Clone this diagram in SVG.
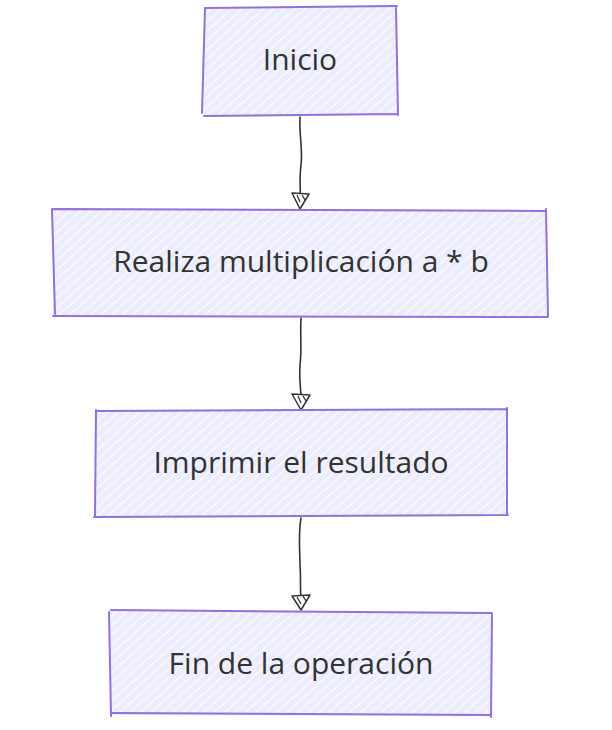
<svg xmlns="http://www.w3.org/2000/svg" width="612" height="730" viewBox="0 0 612 730">
<defs>
<pattern id="hatch" patternUnits="userSpaceOnUse" width="7" height="7" patternTransform="rotate(-42)">
<rect width="7" height="7" fill="#ECECFF"/>
<line x1="0" y1="0.5" x2="7" y2="0.5" stroke="#ffffff" stroke-width="1.2" opacity="0.9"/>
</pattern>
</defs>
<style>
.box{fill:url(#hatch);stroke:none}
.edge{fill:none;stroke:#9370DB;stroke-width:2;stroke-linecap:round}
.lbl{font-family:"Open Sans","DejaVu Sans",sans-serif;font-size:30px;fill:#333333;text-anchor:middle;dominant-baseline:central}
.conn{fill:none;stroke:#333333;stroke-width:1.6;stroke-linecap:round}
.head{fill:#ffffff;stroke:#333333;stroke-width:1.5;stroke-linejoin:round}
.headh{stroke:#333333;stroke-width:1.3}
</style>
<rect width="612" height="730" fill="#ffffff"/>
<g id="connectors">
<path class="conn" d="M300,117 C299,135 303,150 301,165 C299,180 301,190 300,196"/>
<path class="head" d="M292,193 L309,194 L300,209 Z"/>
<path class="headh" d="M297,195 L300,202 M302,195 L305,200"/>
<path class="conn" d="M301,318 C300,335 302,350 300,365 C299,380 301,390 301,397"/>
<path class="head" d="M292,394 L310,395 L301,410 Z"/>
<path class="headh" d="M298,396 L301,403 M303,396 L306,401"/>
<path class="conn" d="M301,518 C298,535 300,550 300,565 C301,580 300,590 301,598"/>
<path class="head" d="M292,596 L310,595 L301,610 Z"/>
<path class="headh" d="M297,597 L301,604 M303,596 L306,601"/>
</g>
<g id="n1">
<path class="box" d="M205,8 L397,6 L398,115 L203,116 Z"/>
<path class="edge" d="M205,8 L397,6 M396,7 L398,115 M204,116 L398,114 M205,8 L202,113"/>
<text class="lbl" x="300" y="58">Inicio</text>
</g>
<g id="n2">
<path class="box" d="M52,209 L546,210 L548,316 L53,316 Z"/>
<path class="edge" d="M52,209 L546,211 M546,209 L548,316 M53,316 L548,317 M52,210 L55,314"/>
<text class="lbl" x="301" y="260">Realiza multiplicación a * b</text>
</g>
<g id="n3">
<path class="box" d="M96,411 L507,409 L507,516 L95,517 Z"/>
<path class="edge" d="M96,411 L507,409 M507,408 L507,514 M94,517 L508,515 M96,410 L95,516"/>
<text class="lbl" x="301" y="461">Imprimir el resultado</text>
</g>
<g id="n4">
<path class="box" d="M110,611 L492,612 L491,716 L111,715 Z"/>
<path class="edge" d="M111,610 L492,613 M492,615 L491,717 M112,713 L490,715 M109,612 L111,716"/>
<text class="lbl" x="301" y="662">Fin de la operación</text>
</g>
</svg>
